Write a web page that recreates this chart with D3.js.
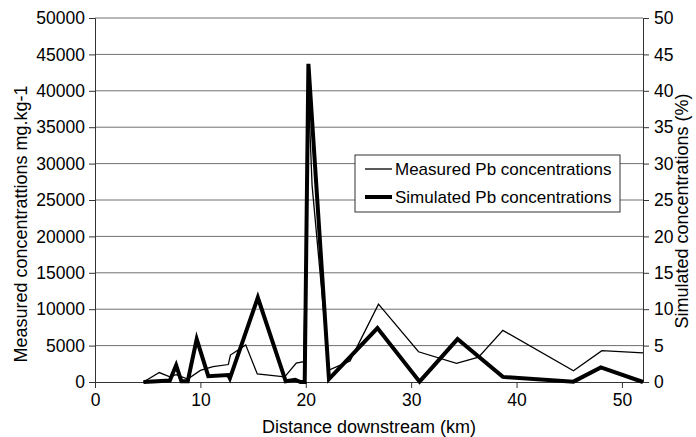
<!DOCTYPE html>
<html>
<head>
<meta charset="utf-8">
<title>Pb concentrations downstream</title>
<style>
  body { margin: 0; background: #fff; font-family: "Liberation Sans", Arial, sans-serif; }
  svg text { fill: #000; }
</style>
</head>
<body>
<script src="https://d3js.org/d3.v7.min.js"></script>
<script>
// measured Pb (mg/kg) against distance (km)
var measuredKm  = [4.6, 6.1, 7.1, 7.7, 8.8, 10.0, 11.2, 12.65, 12.85, 14.3, 15.4, 18.0, 19.1, 19.8, 20.3, 20.6, 22.2, 24.2, 26.9, 30.7, 34.3, 36.4, 38.7, 45.4, 48.1, 52.0];
var measuredVal = [0, 1300, 700, 1000, 400, 1600, 2100, 2400, 3700, 5100, 1100, 700, 2600, 2800, 38000, 27000, 1650, 2900, 10700, 4150, 2550, 3400, 7100, 1550, 4300, 4000];

// simulated Pb (%) against distance (km)
var simKm  = [4.6, 7.1, 7.7, 8.2, 8.8, 9.65, 10.75, 12.65, 12.8, 15.45, 18.1, 19.0, 19.5, 19.9, 20.25, 22.2, 26.8, 30.8, 34.4, 38.7, 45.4, 48.0, 52.0];
var simVal = [0, 0.2, 2.3, 0.1, 0.1, 5.9, 0.8, 0.95, 0.5, 11.6, 0.1, 0.3, 0.0, 0.0, 43.7, 0.4, 7.4, 0.05, 5.9, 0.7, 0.05, 2.0, 0.0];

var xTicks = [0, 10, 20, 30, 40, 50];
var leftTicks = d3.range(0, 50001, 5000);
var rightTicks = d3.range(0, 51, 5);
var legendLabels = ["Measured Pb concentrations", "Simulated Pb concentrations"];

var W = 696, H = 437;
var m = { left: 95, right: 53, top: 18, bottom: 55 };

var svg = d3.select("body").append("svg")
    .attr("width", W)
    .attr("height", H);

var x = d3.scaleLinear().domain([0, 52]).range([m.left, W - m.right]);
var yL = d3.scaleLinear().domain([0, 50000]).range([H - m.bottom, m.top]);
var yR = d3.scaleLinear().domain([0, 50]).range([H - m.bottom, m.top]);

// gridlines
svg.append("g")
    .selectAll("line")
    .data(leftTicks.slice(1))
    .enter().append("line")
    .attr("x1", m.left).attr("x2", W - m.right)
    .attr("y1", d => yL(d)).attr("y2", d => yL(d))
    .attr("stroke", "#707070")
    .attr("stroke-width", 1);

// axes
var fs = "17.5px";
var gl = svg.append("g")
    .attr("transform", "translate(" + m.left + ",0)")
    .call(d3.axisLeft(yL).tickValues(leftTicks).tickSize(6).tickPadding(4).tickFormat(d3.format("d")));
var gr = svg.append("g")
    .attr("transform", "translate(" + (W - m.right) + ",0)")
    .call(d3.axisRight(yR).tickValues(rightTicks).tickSize(6).tickPadding(5));
var gb = svg.append("g")
    .attr("transform", "translate(0," + (H - m.bottom) + ")")
    .call(d3.axisBottom(x).tickValues(xTicks).tickSize(6).tickPadding(6).tickSizeOuter(0));

[gl, gr, gb].forEach(function(g) {
    g.selectAll("text").style("font-size", fs).style("font-family", "Liberation Sans, Arial, sans-serif").attr("fill", "#000");
    g.selectAll("line, path").attr("stroke", "#333");
});

// lines
var lineM = d3.line().x(d => x(d[0])).y(d => yL(d[1]));
var lineS = d3.line().x(d => x(d[0])).y(d => yR(d[1]));

svg.append("path")
    .datum(d3.zip(measuredKm, measuredVal))
    .attr("d", lineM)
    .attr("fill", "none")
    .attr("stroke", "#000")
    .attr("stroke-width", 1.3)
    .attr("stroke-linejoin", "miter");

svg.append("path")
    .datum(d3.zip(simKm, simVal))
    .attr("d", lineS)
    .attr("fill", "none")
    .attr("stroke", "#000")
    .attr("stroke-width", 4)
    .attr("stroke-linejoin", "miter")
    .attr("stroke-miterlimit", 6);

// axis titles
svg.append("text")
    .attr("transform", "translate(27,224) rotate(-90)")
    .attr("text-anchor", "middle")
    .style("font-size", "18px")
    .text("Measured concentrattions mg.kg-1");

svg.append("text")
    .attr("transform", "translate(688,211) rotate(-90)")
    .attr("text-anchor", "middle")
    .style("font-size", "18px")
    .text("Simulated concentrations (%)");

svg.append("text")
    .attr("x", (m.left + W - m.right) / 2)
    .attr("y", H - 4)
    .attr("text-anchor", "middle")
    .style("font-size", "18px")
    .text("Distance downstream (km)");

// legend
var lg = svg.append("g").attr("transform", "translate(355,155)");
lg.append("rect")
    .attr("width", 265).attr("height", 57)
    .attr("fill", "#fff").attr("stroke", "#333").attr("stroke-width", 1);
legendLabels.forEach(function(t, i) {
    var yy = 14 + i * 28;
    lg.append("line")
        .attr("x1", 10).attr("x2", 37)
        .attr("y1", yy).attr("y2", yy)
        .attr("stroke", "#000")
        .attr("stroke-width", i === 0 ? 1.3 : 4);
    lg.append("text")
        .attr("x", 40).attr("y", yy + 6)
        .style("font-size", "17px")
        .text(t);
});
</script>
</body>
</html>
